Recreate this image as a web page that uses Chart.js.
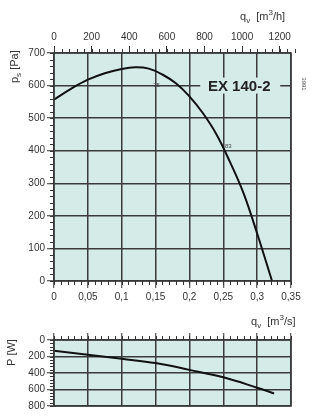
<!DOCTYPE html>
<html><head><meta charset="utf-8">
<script src="https://cdn.jsdelivr.net/npm/chart.js@4"></script>
<style>
html,body{margin:0;padding:0;background:#fff;}
body{width:314px;height:417px;position:relative;overflow:hidden;font-family:"Liberation Sans",Arial,sans-serif;color:#333;}
.box{position:absolute;left:0;width:314px;}
.lbl{position:absolute;font-size:11px;line-height:12px;white-space:nowrap;color:#333;}
.lbl sub{font-size:8px;vertical-align:-3px;line-height:0;}
.lbl sup{font-size:8px;vertical-align:5px;line-height:0;}
.rot{transform-origin:0 0;transform:rotate(-90deg);}
</style></head><body>
<div class="box" style="top:0;height:320px"><canvas id="c1"></canvas></div>
<div class="box" style="top:320px;height:97px"><canvas id="c2"></canvas></div>
<div class="lbl" style="left:240px;top:10px">q<sub>v</sub>&nbsp;&nbsp;[m<sup>3</sup>/h]</div>
<div class="lbl" style="left:251px;top:315px">q<sub>v</sub>&nbsp;&nbsp;[m<sup>3</sup>/s]</div>
<div class="lbl rot" style="left:8px;top:83px">p<sub>s</sub>&nbsp;[Pa]</div>
<div class="lbl rot" style="left:5px;top:366px">P&nbsp;[W]</div>
<script>
// ---- data ----
const flowPs   = [0, 0.025, 0.05, 0.075, 0.1, 0.12, 0.14, 0.16, 0.18, 0.2, 0.22, 0.24, 0.26, 0.28, 0.30, 0.322];
const pressure = [557, 590, 618, 638, 651, 656, 652, 634, 607, 567, 515, 450, 365, 269, 146, 0];
const flowP    = [0, 0.05, 0.1, 0.15, 0.2, 0.25, 0.3, 0.325];
const power    = [130, 178, 228, 280, 362, 452, 578, 648];
const modelName = 'EX 140-2';
const effLabels = [{q:0.150, p:600, t:'75'}, {q:0.256, p:412, t:'83'}];
const docNumber = '3991';

const BG = 'rgb(213,235,232)';
const GRID = '#3a3a3a';
Chart.defaults.font.family = '"Liberation Sans", Arial, sans-serif';
Chart.defaults.font.size = 10;
Chart.defaults.color = '#333';

const fmt = v => String(Number(v.toFixed(2))).replace('.', ',');

const panelPlugin = {
  id: 'panel',
  beforeDraw(chart) {
    const a = chart.chartArea, ctx = chart.ctx;
    ctx.save(); ctx.fillStyle = BG;
    ctx.fillRect(a.left, a.top, a.right - a.left, a.bottom - a.top);
    ctx.restore();
  },
  afterDraw(chart) {
    const a = chart.chartArea, ctx = chart.ctx;
    ctx.save();
    ctx.strokeStyle = GRID; ctx.lineWidth = 1.5;
    ctx.strokeRect(a.left, a.top, a.right - a.left, a.bottom - a.top);
    ctx.lineWidth = 1; ctx.strokeStyle = '#333';
    for (const id in chart.scales) {
      const s = chart.scales[id];
      const m = s.options.minorStep;
      if (!m) continue;
      const n = Math.round((s.max - s.min) / m);
      for (let i = 0; i <= n; i++) {
        const v = s.min + i * m;
        const p = Math.round(s.getPixelForValue(v)) + 0.5;
        ctx.beginPath();
        if (s.isHorizontal()) {
          if (s.position === 'top') { ctx.moveTo(p, a.top); ctx.lineTo(p, a.top - 4); }
          else { ctx.moveTo(p, a.bottom); ctx.lineTo(p, a.bottom + 4); }
        } else { ctx.moveTo(a.left, p); ctx.lineTo(a.left - 4, p); }
        ctx.stroke();
      }
    }
    ctx.restore();
  }
};

const labelsPlugin = {
  id: 'labels',
  afterDatasetsDraw(chart) {
    const ctx = chart.ctx, x = chart.scales.x, y = chart.scales.y;
    ctx.save();
    const cx = x.getPixelForValue(0.275), cy = y.getPixelForValue(600);
    ctx.fillStyle = BG;
    ctx.fillRect(cx - 40, cy - 8, 80, 16);
    ctx.fillStyle = '#222';
    ctx.font = 'bold 15px "Liberation Sans", Arial, sans-serif';
    ctx.textAlign = 'center'; ctx.textBaseline = 'middle';
    ctx.fillText(modelName, cx - 1, cy + 1);
    ctx.font = '6px "Liberation Sans", Arial, sans-serif';
    ctx.fillStyle = '#444';
    effLabels.forEach(e => {
      ctx.fillText(e.t, x.getPixelForValue(e.q) + 1, y.getPixelForValue(e.p));
    });
    ctx.translate(304, 84); ctx.rotate(Math.PI / 2);
    ctx.font = '6px "Liberation Sans", Arial, sans-serif';
    ctx.fillStyle = '#555';
    ctx.fillText(docNumber, 0, 0);
    ctx.restore();
  }
};

const gridOpts = {color: GRID, lineWidth: 1.5, tickColor: '#333', tickWidth: 1, tickLength: 7};

new Chart(document.getElementById('c1'), {
  type: 'line',
  data: {datasets: [{
    data: flowPs.map((q, i) => ({x: q, y: pressure[i]})),
    borderColor: '#111', borderWidth: 2, pointRadius: 0,
    tension: 0.4, fill: false
  }]},
  options: {
    responsive: true, maintainAspectRatio: false, animation: false,
    layout: {padding: {left: 0, right: 23, top: 0, bottom: 0}},
    plugins: {legend: {display: false}, tooltip: {enabled: false}},
    scales: {
      x: {type: 'linear', position: 'bottom', min: 0, max: 0.35, minorStep: 0.01,
          afterFit: s => { s.height = 39; },
          grid: gridOpts, border: {display: false},
          ticks: {stepSize: 0.05, autoSkip: false, maxRotation: 0, padding: 3, callback: v => fmt(v)}},
      x2: {type: 'linear', position: 'top', min: 0, max: 0.35 * 3600, minorStep: 40,
          afterFit: s => { s.height = 53; },
          grid: {drawOnChartArea: false, tickColor: '#333', tickLength: 7},
          border: {display: false},
          ticks: {stepSize: 200, includeBounds: false, autoSkip: false, maxRotation: 0, padding: 3,
                  callback: v => String(v)}},
      y: {type: 'linear', min: 0, max: 700, minorStep: 20,
          afterFit: s => { s.width = 54; },
          grid: gridOpts, border: {display: false},
          ticks: {stepSize: 100, autoSkip: false, padding: 2, callback: v => String(v)}}
    }
  },
  plugins: [panelPlugin, labelsPlugin]
});

new Chart(document.getElementById('c2'), {
  type: 'line',
  data: {datasets: [{
    data: flowP.map((q, i) => ({x: q, y: power[i]})),
    borderColor: '#111', borderWidth: 2, pointRadius: 0,
    tension: 0.4, fill: false
  }]},
  options: {
    responsive: true, maintainAspectRatio: false, animation: false,
    layout: {padding: {left: 0, right: 23, top: 0, bottom: 11}},
    plugins: {legend: {display: false}, tooltip: {enabled: false}},
    scales: {
      x: {type: 'linear', position: 'top', min: 0, max: 0.35, minorStep: 0.01,
          afterFit: s => { s.height = 20; },
          grid: gridOpts, border: {display: false},
          ticks: {stepSize: 0.05, display: false}},
      y: {type: 'linear', reverse: true, min: 0, max: 800, minorStep: 40,
          afterFit: s => { s.width = 54; },
          grid: gridOpts, border: {display: false},
          ticks: {stepSize: 200, autoSkip: false, padding: 2, callback: v => String(v)}}
    }
  },
  plugins: [panelPlugin]
});
</script>
</body></html>
